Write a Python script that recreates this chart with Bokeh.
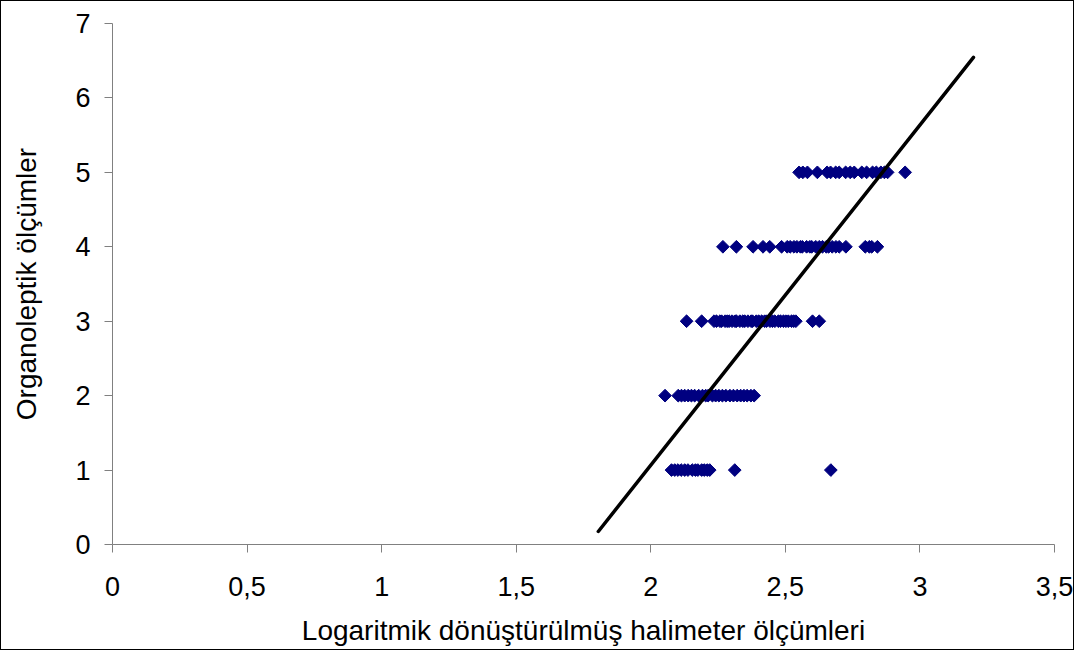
import math
from bokeh.plotting import figure
from bokeh.models import Range1d, FixedTicker
from bokeh.embed import file_html
from bokeh.resources import INLINE

# ---- data ----
x_score5 = [2.551, 2.565, 2.582, 2.619, 2.655, 2.668, 2.687, 2.700, 2.724, 2.741,
            2.756, 2.784, 2.802, 2.824, 2.838, 2.855, 2.868, 2.880, 2.945]
x_score4 = [2.268, 2.318, 2.380, 2.417, 2.442, 2.486, 2.507, 2.518, 2.532, 2.543,
            2.556, 2.563, 2.579, 2.591, 2.598, 2.613, 2.626, 2.638, 2.652, 2.661,
            2.674, 2.688, 2.700, 2.725, 2.797, 2.812, 2.821, 2.842]
x_score3 = [2.133, 2.189, 2.235, 2.244, 2.257, 2.263, 2.276, 2.284, 2.291, 2.302,
            2.313, 2.318, 2.331, 2.342, 2.349, 2.361, 2.373, 2.378, 2.392, 2.401,
            2.412, 2.423, 2.430, 2.443, 2.452, 2.461, 2.474, 2.482, 2.493, 2.502,
            2.511, 2.523, 2.531, 2.539, 2.601, 2.626]
x_score2 = [2.053, 2.102, 2.114, 2.126, 2.139, 2.151, 2.163, 2.178, 2.192, 2.204,
            2.213, 2.229, 2.241, 2.253, 2.266, 2.279, 2.294, 2.307, 2.321, 2.334,
            2.346, 2.358, 2.372, 2.384]
x_score1 = [2.077, 2.089, 2.101, 2.113, 2.126, 2.138, 2.154, 2.166, 2.175, 2.189,
            2.199, 2.210, 2.219, 2.312, 2.669]
score_levels = [5, 4, 3, 2, 1]

fit_x = [1.805, 3.199]
fit_y = [0.175, 6.546]

x_ticks = [0, 0.5, 1, 1.5, 2, 2.5, 3, 3.5]
x_tick_labels = ["0", "0,5", "1", "1,5", "2", "2,5", "3", "3,5"]
y_ticks = [0, 1, 2, 3, 4, 5, 6, 7]
y_tick_labels = ["0", "1", "2", "3", "4", "5", "6", "7"]

x_title = "Logaritmik dönüştürülmüş halimeter ölçümleri"
y_title = "Organoleptik ölçümler"

# ---- build ----
xs, ys = [], []
for lvl, arr in zip(score_levels, [x_score5, x_score4, x_score3, x_score2, x_score1]):
    xs += arr
    ys += [lvl] * len(arr)

FONT = "Liberation Sans"

p = figure(width=1074, height=650, x_range=Range1d(0, 3.5), y_range=Range1d(0, 7),
           output_backend="svg", toolbar_location=None,
           min_border_left=111, min_border_right=21, min_border_top=22,
           min_border_bottom=107)
p.styles = {"border": "1px solid #000000"}
p.outline_line_color = None
p.xgrid.visible = False
p.ygrid.visible = False
p.background_fill_color = "white"
p.border_fill_color = "white"

p.scatter(xs, ys, marker="square", size=9, angle=math.pi / 4,
          fill_color="#000080", line_color="#000080")
p.line(fit_x, fit_y, line_width=3.5, line_color="black", line_cap="round")

for ax, ticks, labels in ((p.xaxis[0], x_ticks, x_tick_labels),
                          (p.yaxis[0], y_ticks, y_tick_labels)):
    ax.ticker = FixedTicker(ticks=ticks)
    ax.major_label_overrides = {float(t): l for t, l in zip(ticks, labels)}
    ax.axis_line_color = "#808080"
    ax.major_tick_line_color = "#808080"
    ax.major_tick_out = 8
    ax.major_tick_in = 0
    ax.minor_tick_line_color = None
    ax.major_label_text_font = FONT
    ax.major_label_text_font_size = "27px"
    ax.major_label_text_color = "black"
    ax.axis_label_text_font = FONT
    ax.axis_label_text_font_size = "28px"
    ax.axis_label_text_font_style = "normal"
    ax.axis_label_text_color = "black"

p.xaxis[0].axis_label = x_title
p.yaxis[0].axis_label = y_title
p.xaxis[0].major_label_standoff = 24
p.xaxis[0].axis_label_standoff = 16
p.yaxis[0].major_label_standoff = 14
p.yaxis[0].axis_label_standoff = 30

open("out.html", "w").write(file_html(p, INLINE))
